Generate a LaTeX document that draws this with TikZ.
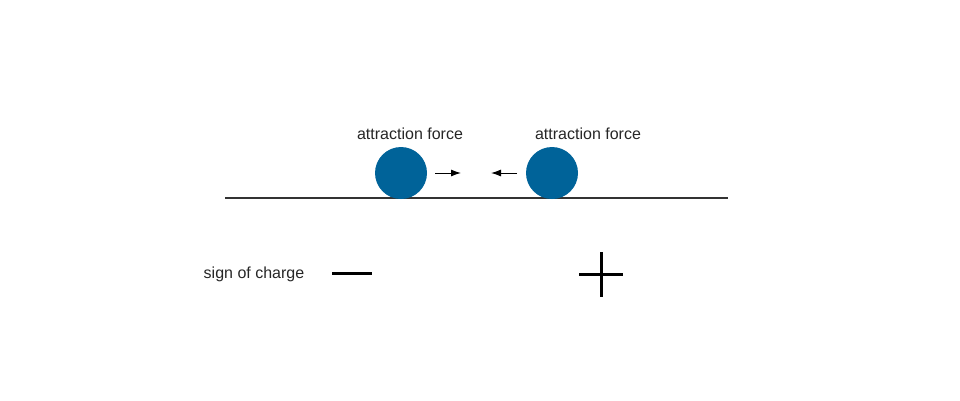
\documentclass[tikz,border=0pt]{standalone}
\usepackage{fontspec}
\setmainfont{Liberation Sans}
\usetikzlibrary{arrows.meta}
\definecolor{ball}{RGB}{0,99,153}
\definecolor{ground}{RGB}{51,51,51}
\tikzset{
  charge/.style={circle,fill=ball,minimum size=52pt,inner sep=0pt},
  lbl/.style={font=\fontsize{16}{19}\selectfont,text=black!85,inner sep=0pt},
  force/.style={-{Latex[length=10pt,width=7pt]},line width=1pt},
  sign/.style={line width=3pt}
}
\begin{document}
\begin{tikzpicture}[x=1pt,y=-1pt]
\useasboundingbox (0,0) rectangle (960,400);
\coordinate (g1) at (225,198);
\coordinate (g2) at (728,198);
\draw[ground,line width=1.6pt] (g1) -- (g2);
\node[charge] (c1) at (401,173) {};
\node[charge] (c2) at (552,173) {};
\node[lbl] (l1) at (410,134) {attraction force};
\node[lbl] (l2) at (588,134) {attraction force};
\coordinate (a1s) at (435,173);
\coordinate (a1e) at (461,173);
\coordinate (a2s) at (517,173);
\coordinate (a2e) at (491,173);
\draw[force] (a1s) -- (a1e);
\draw[force] (a2s) -- (a2e);
\node[lbl] (sc) at (254,274) {sign of charge};
\coordinate (m1) at (332,273);
\coordinate (m2) at (372,273);
\draw[sign] (m1) -- (m2);
\coordinate (p1) at (579,274);
\coordinate (p2) at (623,274);
\coordinate (p3) at (601,252);
\coordinate (p4) at (601,297);
\draw[sign] (p1) -- (p2);
\draw[sign] (p3) -- (p4);
\end{tikzpicture}
\end{document}
